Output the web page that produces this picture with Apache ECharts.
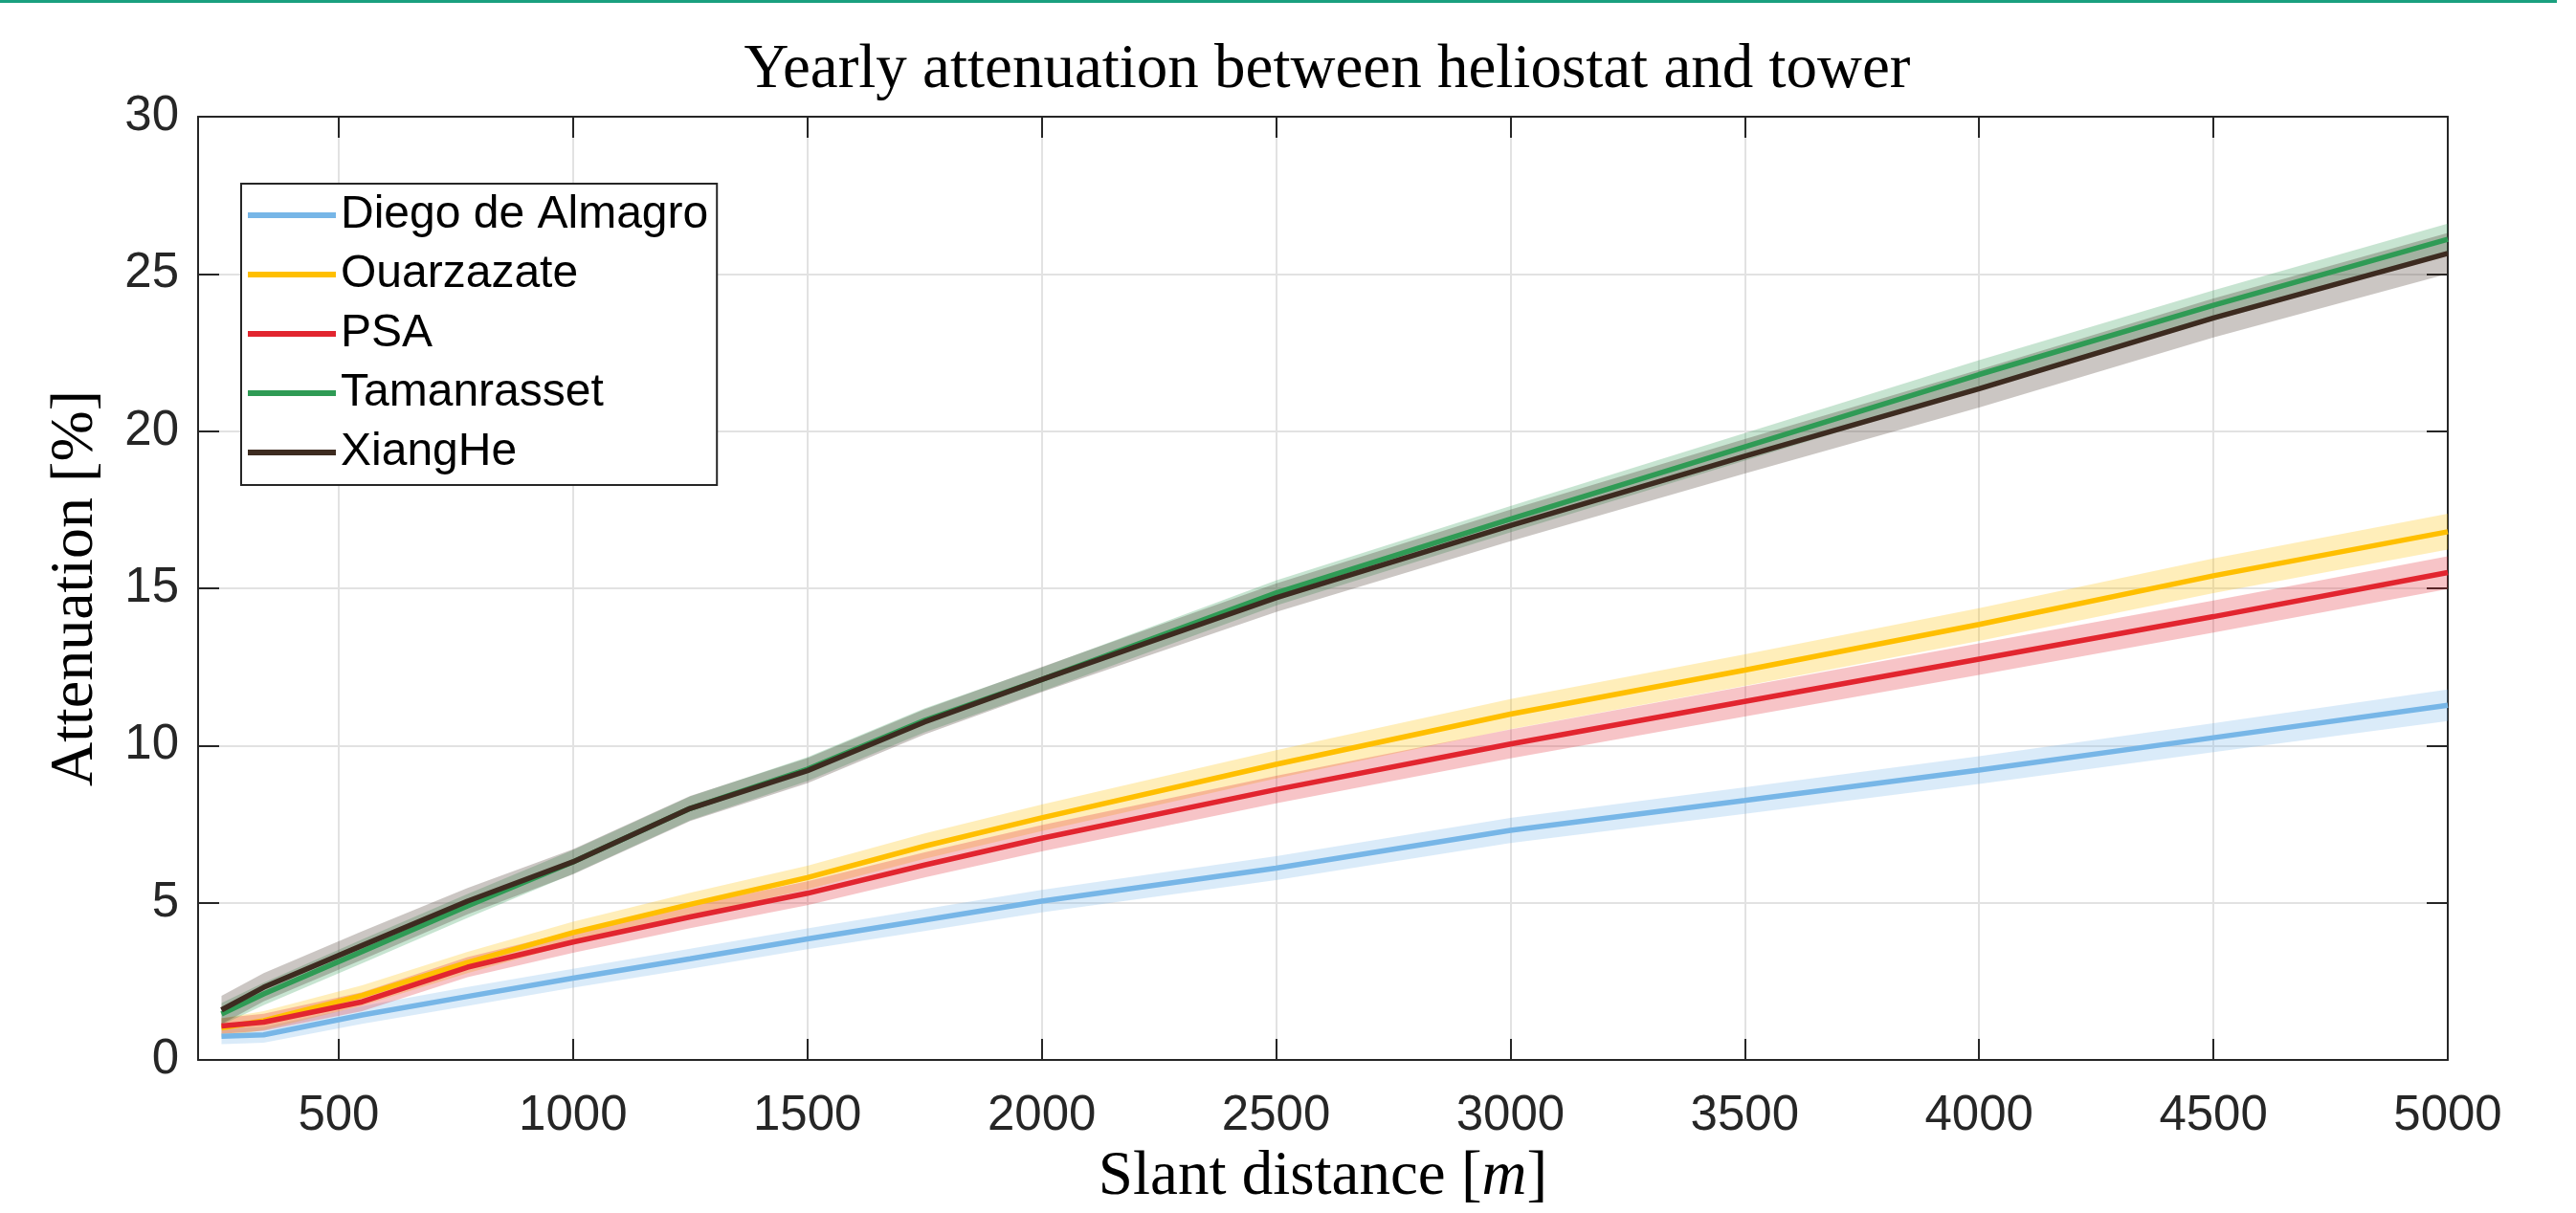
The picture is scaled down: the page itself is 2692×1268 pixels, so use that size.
<!DOCTYPE html>
<html><head><meta charset="utf-8">
<script src="https://cdn.jsdelivr.net/npm/echarts@6/dist/echarts.min.js"></script>
<style>html,body{margin:0;padding:0;background:#fff}#c{width:2692px;height:1268px}</style>
</head><body><div id="c"></div>
<script>
// ---- data ----
const slantDistance = [250, 340, 550, 775, 1000, 1250, 1500, 1750, 2000, 2500, 3000, 3500, 4000, 4500, 5000];
const diegoDeAlmagro = [0.75, 0.80, 1.43, 2.02, 2.60, 3.22, 3.85, 4.45, 5.05, 6.10, 7.30, 8.25, 9.22, 10.25, 11.28];
const ouarzazate     = [1.02, 1.25, 2.05, 3.10, 4.05, 4.95, 5.80, 6.80, 7.70, 9.40, 11.00, 12.40, 13.85, 15.40, 16.80];
const psa            = [1.08, 1.20, 1.85, 2.95, 3.75, 4.55, 5.30, 6.20, 7.05, 8.60, 10.05, 11.40, 12.75, 14.10, 15.50];
const tamanrasset    = [1.46, 2.10, 3.45, 4.90, 6.30, 8.00, 9.25, 10.80, 12.10, 14.85, 17.20, 19.50, 21.80, 24.00, 26.10];
const xiangHe        = [1.59, 2.31, 3.64, 5.05, 6.30, 8.00, 9.20, 10.75, 12.10, 14.70, 17.00, 19.20, 21.35, 23.60, 25.65];
// half-width of the shaded band around each line
const diegoSpread  = [0.25, 0.25, 0.28, 0.30, 0.30, 0.32, 0.33, 0.35, 0.36, 0.38, 0.40, 0.42, 0.44, 0.46, 0.50];
const ouarzSpread  = [0.30, 0.30, 0.32, 0.34, 0.35, 0.37, 0.38, 0.40, 0.42, 0.45, 0.48, 0.50, 0.52, 0.55, 0.57];
const psaSpread    = [0.25, 0.27, 0.30, 0.32, 0.34, 0.36, 0.38, 0.40, 0.42, 0.44, 0.46, 0.48, 0.50, 0.51, 0.52];
const tamanSpread  = [0.35, 0.36, 0.38, 0.38, 0.38, 0.38, 0.38, 0.38, 0.38, 0.40, 0.42, 0.44, 0.46, 0.48, 0.50];
const xiangSpread  = [0.45, 0.45, 0.45, 0.42, 0.40, 0.40, 0.40, 0.40, 0.40, 0.45, 0.50, 0.55, 0.60, 0.62, 0.65];
const seriesNames = ['Diego de Almagro', 'Ouarzazate', 'PSA', 'Tamanrasset', 'XiangHe'];
const xTickValues = [500, 1000, 1500, 2000, 2500, 3000, 3500, 4000, 4500, 5000];
const yTickValues = [0, 5, 10, 15, 20, 25, 30];

const colors = ['#77b6e7', '#ffbf00', '#e2252f', '#2f9b55', '#3d2b20'];
const means = [diegoDeAlmagro, ouarzazate, psa, tamanrasset, xiangHe];
const spreads = [diegoSpread, ouarzSpread, psaSpread, tamanSpread, xiangSpread];

function rgba(hex, a) {
  const n = parseInt(hex.slice(1), 16);
  return 'rgba(' + ((n >> 16) & 255) + ',' + ((n >> 8) & 255) + ',' + (n & 255) + ',' + a + ')';
}

const series = [];
seriesNames.forEach((name, k) => {
  const m = means[k], s = spreads[k];
  const bandData = slantDistance.map((x, i) => [x, m[i] - s[i], m[i] + s[i]]);
  series.push({
    type: 'custom', name: 'band-' + k, silent: true, z: 1, animation: false,
    encode: { x: 0, y: [1, 2] },
    data: bandData,
    renderItem: function (params, api) {
      if (params.dataIndex !== 0) return null;
      const pts = [];
      for (let i = 0; i < bandData.length; i++) pts.push(api.coord([bandData[i][0], bandData[i][2]]));
      for (let i = bandData.length - 1; i >= 0; i--) pts.push(api.coord([bandData[i][0], bandData[i][1]]));
      return { type: 'polygon', shape: { points: pts }, style: { fill: rgba(colors[k], 0.27), stroke: null } };
    }
  });
});
seriesNames.forEach((name, k) => {
  series.push({
    type: 'line', name: name, symbol: 'none', z: 3, animation: false,
    lineStyle: { color: colors[k], width: 5.5 }, itemStyle: { color: colors[k] },
    data: slantDistance.map((x, i) => [x, means[k][i]])
  });
});

const axisColor = '#262626';
const chart = echarts.init(document.getElementById('c'));
chart.setOption({
  backgroundColor: '#ffffff',
  animation: false,
  title: {
    text: 'Yearly attenuation between heliostat and tower',
    left: 1382, textAlign: 'center', top: 36,
    textStyle: { fontFamily: 'Liberation Serif', fontSize: 65, fontWeight: 'normal', color: '#000' }
  },
  graphic: [{ type: 'rect', left: 0, top: 0, shape: { width: 2672, height: 3 }, style: { fill: '#1aa07f' } }],
  grid: { left: 207, right: 134, top: 122, bottom: 145, containLabel: false },
  legend: {
    data: seriesNames, orient: 'vertical', left: 252, top: 192,
    icon: 'rect', itemWidth: 92, itemHeight: 6, itemGap: 12, padding: [8, 9, 9, 7],
    backgroundColor: '#fff', borderColor: axisColor, borderWidth: 2, borderRadius: 0,
    textStyle: { fontFamily: 'Liberation Sans', fontSize: 48, color: '#000', lineHeight: 50 }
  },
  xAxis: [{
    type: 'value', min: 200, max: 5000, position: 'bottom',
    axisLine: { show: true, onZero: false, lineStyle: { color: axisColor, width: 2 } },
    axisTick: { show: true, inside: true, length: 22, customValues: xTickValues, lineStyle: { color: axisColor, width: 2 } },
    axisLabel: { customValues: xTickValues, formatter: v => String(v), fontFamily: 'Liberation Sans', fontSize: 51, color: axisColor, margin: 33 },
    splitLine: { show: true, lineStyle: { color: '#e2e2e2', width: 2 } },
    name: 'Slant distance [{i|m}]', nameLocation: 'middle', nameGap: 90,
    nameTextStyle: { fontFamily: 'Liberation Serif', fontSize: 65, color: '#000',
      rich: { i: { fontFamily: 'Liberation Serif', fontStyle: 'italic', fontSize: 65, color: '#000' } } }
  }, {
    type: 'value', min: 200, max: 5000, position: 'top',
    axisLine: { show: true, onZero: false, lineStyle: { color: axisColor, width: 2 } },
    axisTick: { show: true, inside: true, length: 22, customValues: xTickValues, lineStyle: { color: axisColor, width: 2 } },
    axisLabel: { show: false }, splitLine: { show: false }
  }],
  yAxis: [{
    type: 'value', min: 0, max: 30, interval: 5, position: 'left',
    axisLine: { show: true, onZero: false, lineStyle: { color: axisColor, width: 2 } },
    axisTick: { show: true, inside: true, length: 22, lineStyle: { color: axisColor, width: 2 } },
    axisLabel: { fontFamily: 'Liberation Sans', fontSize: 51, color: axisColor, margin: 20 },
    splitLine: { show: true, lineStyle: { color: '#e2e2e2', width: 2 } },
    name: 'Attenuation [%]', nameLocation: 'middle', nameGap: 96, nameRotate: 90,
    nameTextStyle: { fontFamily: 'Liberation Serif', fontSize: 64, color: '#000' }
  }, {
    type: 'value', min: 0, max: 30, interval: 5, position: 'right',
    axisLine: { show: true, onZero: false, lineStyle: { color: axisColor, width: 2 } },
    axisTick: { show: true, inside: true, length: 22, lineStyle: { color: axisColor, width: 2 } },
    axisLabel: { show: false }, splitLine: { show: false }
  }],
  series: series
});
</script></body></html>
